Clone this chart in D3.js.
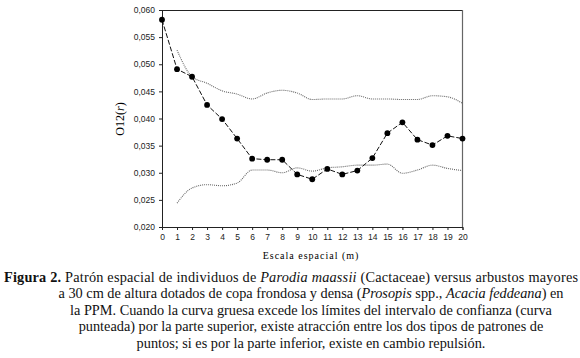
<!DOCTYPE html>
<html>
<head>
<meta charset="utf-8">
<script src="https://cdn.jsdelivr.net/npm/d3@7"></script>
<style>
  body { margin: 0; background: #fff; }
  svg { display: block; }
  .tick text { font-family: "Liberation Sans", Arial, sans-serif; font-size: 8.5px; fill: #222; }
  .caption { font-family: "Liberation Serif", "DejaVu Serif", serif; font-size: 14.3px; fill: #111; }
</style>
</head>
<body>
<svg id="chart" width="580" height="358"></svg>
<script>
// Distance r (m)
var distances = [0, 1, 2, 3, 4, 5, 6, 7, 8, 9, 10, 11, 12, 13, 14, 15, 16, 17, 18, 19, 20];
// Observed O12(r), thick dashed curve
var observed = [0.0582, 0.0491, 0.0477, 0.0425, 0.0399, 0.0363, 0.0326, 0.0324, 0.0324, 0.0297, 0.0288,
                0.0307, 0.0297, 0.0304, 0.0327, 0.0373, 0.0393, 0.0361, 0.0351, 0.0368, 0.0363];
// Confidence envelope (starts at r = 1)
var envDistances = [1, 2, 3, 4, 5, 6, 7, 8, 9, 10, 11, 12, 13, 14, 15, 16, 17, 18, 19, 20];
var upperEnv = [0.0526, 0.0477, 0.0465, 0.0451, 0.0445, 0.0436, 0.0447, 0.0452, 0.0447, 0.0435,
                0.0436, 0.0436, 0.0442, 0.0436, 0.0436, 0.0435, 0.0435, 0.0442, 0.0440, 0.0428];
var lowerEnv = [0.0244, 0.0272, 0.0278, 0.0276, 0.0281, 0.0305, 0.0305, 0.0300, 0.0309, 0.0303,
                0.0309, 0.0311, 0.0314, 0.0314, 0.0316, 0.0299, 0.0305, 0.0314, 0.0308, 0.0304];
var yTicks = [0.020, 0.025, 0.030, 0.035, 0.040, 0.045, 0.050, 0.055, 0.060];

var captionLines = [
  [{t: "Figura 2.", b: true}, {t: " Patrón espacial de individuos de "}, {t: "Parodia maassii", i: true}, {t: " (Cactaceae) versus arbustos mayores"}],
  [{t: "a 30 cm de altura dotados de copa frondosa y densa ("}, {t: "Prosopis", i: true}, {t: " spp., "}, {t: "Acacia feddeana", i: true}, {t: ") en"}],
  [{t: "la PPM. Cuando la curva gruesa excede los límites del intervalo de confianza (curva"}],
  [{t: "punteada) por la parte superior, existe atracción entre los dos tipos de patrones de"}],
  [{t: "puntos; si es por la parte inferior, existe en cambio repulsión."}]
];

var margin = { top: 10, left: 162 };
var width = 300.5;
var height = 217;

var svg = d3.select("#chart");
var g = svg.append("g")
    .attr("transform", "translate(" + margin.left + "," + margin.top + ")");

var xScale = d3.scaleLinear().domain([0, 20]).range([0, width]);
var yScale = d3.scaleLinear().domain([0.020, 0.060]).range([height, 0]);

// box (top + right)
g.append("line").attr("x1", 0).attr("x2", width).attr("y1", 0.5).attr("y2", 0.5)
    .attr("stroke", "#222").attr("stroke-width", 1);
g.append("line").attr("x1", width).attr("x2", width).attr("y1", 0).attr("y2", height)
    .attr("stroke", "#666").attr("stroke-width", 1.2);

var xAxis = d3.axisBottom(xScale).tickValues(distances).tickSize(3).tickPadding(4).tickFormat(d3.format("d"));
var yAxis = d3.axisLeft(yScale).tickValues(yTicks).tickSize(3).tickPadding(4)
    .tickFormat(function(d) { return d3.format(".3f")(d).replace(".", ","); });

g.append("g").attr("transform", "translate(0," + height + ")").call(xAxis)
    .call(function(s) { s.select(".domain").attr("stroke", "#222"); s.selectAll(".tick line").attr("stroke", "#222"); });
g.append("g").call(yAxis)
    .call(function(s) { s.select(".domain").attr("stroke", "#222"); s.selectAll(".tick line").attr("stroke", "#222"); });

// envelopes
var envLine = d3.line()
    .x(function(d) { return xScale(d[0]); })
    .y(function(d) { return yScale(d[1]); })
    .curve(d3.curveMonotoneX);

[upperEnv, lowerEnv].forEach(function(vals) {
    g.append("path")
        .datum(envDistances.map(function(x, i) { return [x, vals[i]]; }))
        .attr("d", envLine)
        .style("fill", "none")
        .style("stroke", "#666")
        .style("stroke-width", 1.1)
        .style("stroke-dasharray", "1,1");
});

// observed curve
var obsData = distances.map(function(x, i) { return [x, observed[i]]; });
g.append("path")
    .datum(obsData)
    .attr("d", d3.line().x(function(d) { return xScale(d[0]); }).y(function(d) { return yScale(d[1]); }))
    .style("fill", "none")
    .style("stroke", "#111")
    .style("stroke-width", 1)
    .style("stroke-dasharray", "5,2");

g.selectAll(".pt")
    .data(obsData)
    .enter()
    .append("circle")
    .attr("class", "pt")
    .attr("cx", function(d) { return xScale(d[0]); })
    .attr("cy", function(d) { return yScale(d[1]); })
    .attr("r", 2.9)
    .style("fill", "#000");

// axis titles
svg.append("text")
    .attr("x", 311)
    .attr("y", 259)
    .attr("text-anchor", "middle")
    .style("font-family", "'Liberation Serif', serif")
    .style("font-size", "10px")
    .style("letter-spacing", "1px")
    .text("Escala espacial (m)");

var yl = svg.append("text")
    .attr("transform", "translate(124,119) rotate(-90)")
    .attr("text-anchor", "middle")
    .style("font-family", "'Liberation Serif', serif")
    .style("font-size", "12px");
yl.append("tspan").text("O12(");
yl.append("tspan").style("font-style", "italic").text("r");
yl.append("tspan").text(")");

// caption
var capY = [282, 298.4, 314.8, 331.2, 347.6];
captionLines.forEach(function(parts, li) {
    var txt = svg.append("text")
        .attr("class", "caption")
        .attr("y", capY[li]);
    if (li === 0) {
        txt.attr("x", 4).attr("textLength", 574).attr("lengthAdjust", "spacing");
    } else {
        txt.attr("x", 311).attr("text-anchor", "middle");
    }
    parts.forEach(function(p) {
        var ts = txt.append("tspan").text(p.t);
        if (p.b) ts.style("font-weight", "bold");
        if (p.i) ts.style("font-style", "italic");
    });
});
</script>
</body>
</html>
